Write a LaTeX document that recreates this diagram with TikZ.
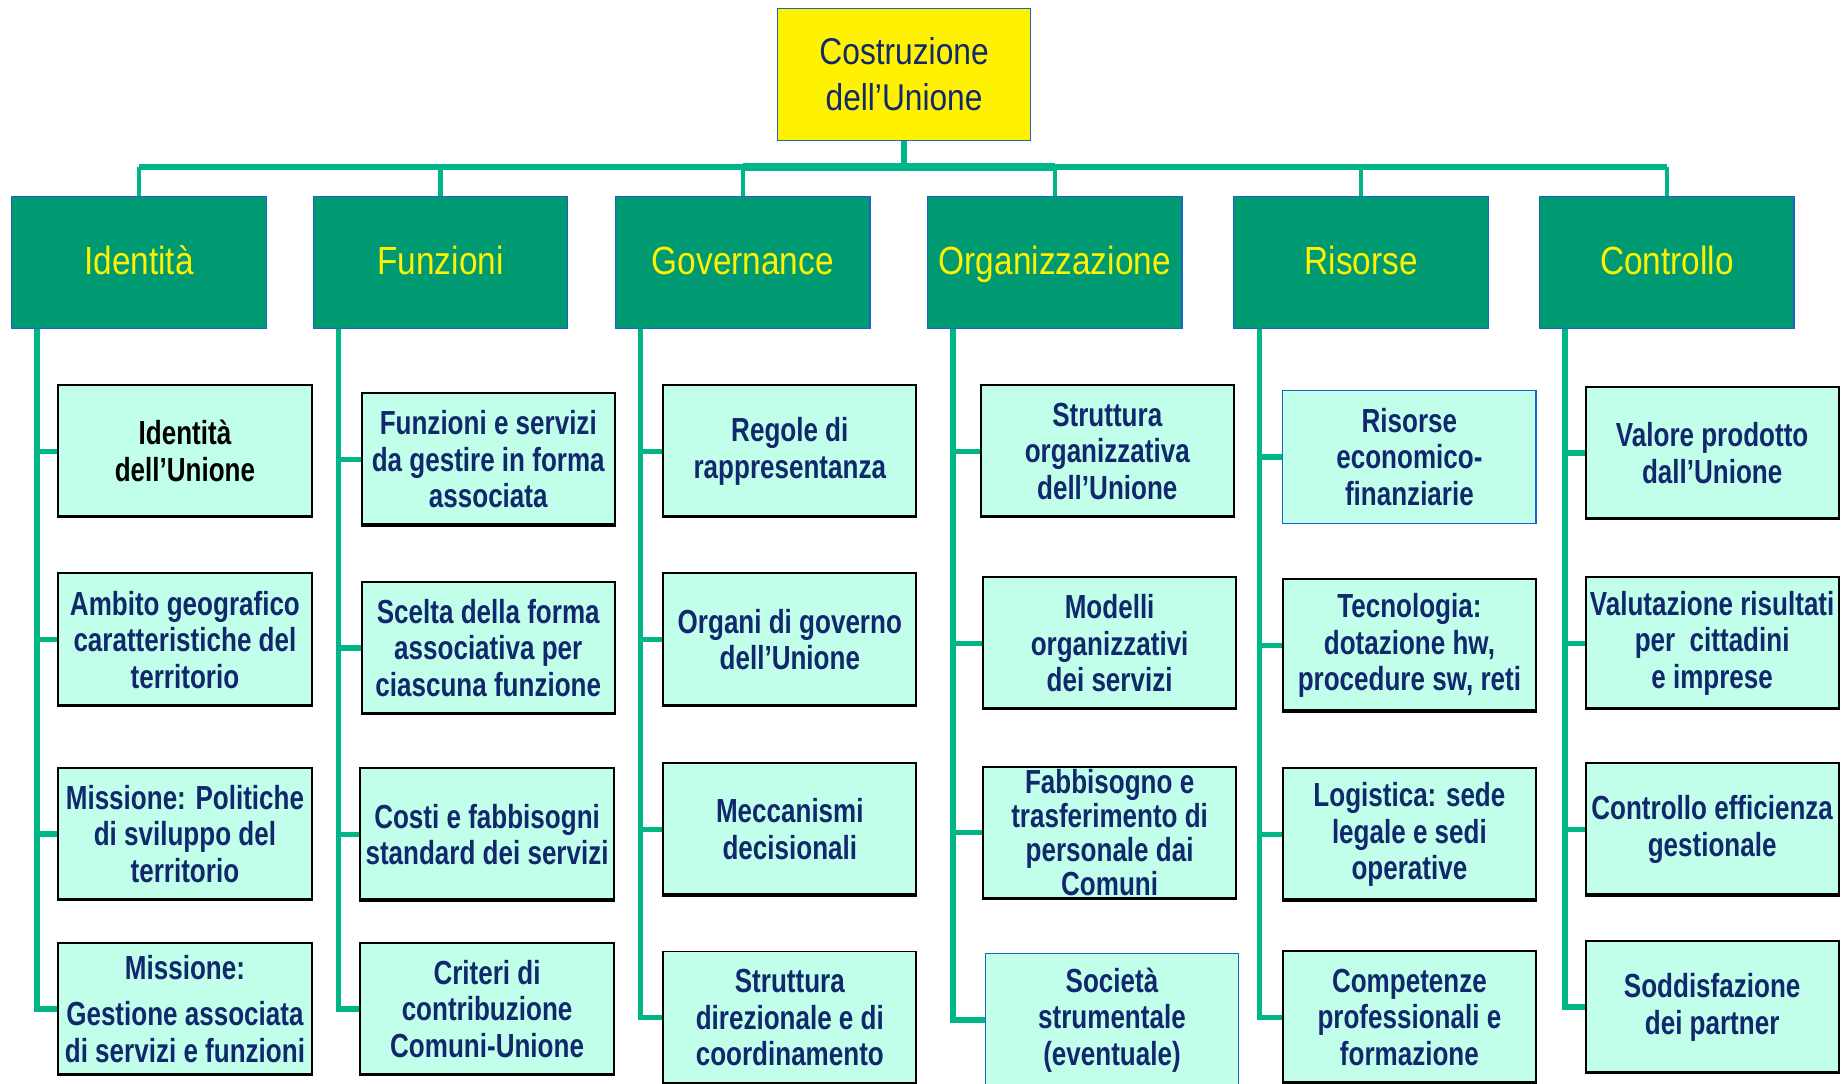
\documentclass[tikz,border=0pt]{standalone}
\usepackage{fontspec}
\setmainfont{Liberation Sans}
\newfontfamily\headfont{Liberation Sans}[FakeStretch=0.85]
\newfontfamily\boxfont{Liberation Sans}[FakeStretch=0.78]
\definecolor{navytext}{RGB}{18,40,108}
\definecolor{rootblue}{RGB}{30,100,200}
\definecolor{areagreen}{RGB}{0,154,114}
\definecolor{linkgreen}{RGB}{0,182,134}
\definecolor{leaffill}{RGB}{194,255,235}

\begin{document}
\begin{tikzpicture}[x=0.6pt, y=-0.6pt,
    rootbox/.style={draw=rootblue, line width=0.6pt, fill=yellow, text=navytext, minimum width=129pt, minimum height=67.2pt, align=center, font=\headfont\fontsize{19}{23}\selectfont},
    areabox/.style={draw=rootblue, line width=0.6pt, fill=areagreen, text=yellow, minimum width=129.6pt, minimum height=67.2pt, text height=15.6pt, text depth=3.6pt, font=\headfont\fontsize{20}{24}\selectfont},
    leafbox/.style={draw=black, line width=1pt, fill=leaffill, text=navytext, minimum width=129pt, minimum height=67.5pt, inner sep=1pt, align=center, font=\boxfont\bfseries\fontsize{17}{18.6}\selectfont,
        path picture={\draw[line width=2.4pt] (path picture bounding box.south west) -- (path picture bounding box.south east);}},
    leafblue/.style={leafbox, draw=rootblue, line width=0.6pt, path picture={}},
    link/.style={draw=linkgreen, line width=2.7pt},
    drop/.style={draw=linkgreen, line width=2.1pt}]
    \useasboundingbox (0,0) rectangle (1568,920);

    \node (top) at (767.5,63) [rootbox] {Costruzione\\dell’Unione};

    \node (h1) at (118,223) [areabox] {Identità};
    \node (h2) at (374,223) [areabox] {Funzioni};
    \node (h3) at (630.5,223) [areabox] {Governance};
    \node (h4) at (895.5,223) [areabox] {Organizzazione};
    \node (h5) at (1155.5,223) [areabox] {Risorse};
    \node (h6) at (1415,223) [areabox] {Controllo};

    \coordinate (bus) at (767.5,142);
    \draw[link] (top.south) -- (bus);
    \draw[link, line width=3pt] (h1.north |- bus) -- (h6.north |- bus);
    \draw[link, line width=4.2pt, yshift=0.9pt] (h3.north |- bus) -- (h4.north |- bus);
    \foreach \h in {1,...,6}
        \draw[drop] (h\h.north) -- (h\h.north |- bus);

    \node (c11) at (157,383) [leafbox, text=black] {Identità\\dell’Unione};
    \node (c12) at (157,543) [leafbox] {Ambito geografico\\caratteristiche del\\territorio};
    \node (c13) at (157,708) [leafbox] {Missione: Politiche\\di sviluppo del\\territorio};
    \node (c14) at (157,856.5) [leafbox] {Missione:\\[5pt]Gestione associata\\di servizi e funzioni};

    \node (c21) at (414.5,390) [leafbox] {Funzioni e servizi\\da gestire in forma\\associata};
    \node (c22) at (414.5,550) [leafbox] {Scelta della forma\\associativa per\\ciascuna funzione};
    \node (c23) at (413.5,708.5) [leafbox] {Costi e fabbisogni\\standard dei servizi};
    \node (c24) at (413.5,856.5) [leafbox] {Criteri di\\contribuzione\\Comuni-Unione};

    \node (c31) at (670.5,383) [leafbox] {Regole di\\rappresentanza};
    \node (c32) at (670.5,543) [leafbox] {Organi di governo\\dell’Unione};
    \node (c33) at (670.5,704) [leafbox] {Meccanismi\\decisionali};
    \node (c34) at (670.5,864) [leafbox] {Struttura\\direzionale e di\\coordinamento};

    \node (c41) at (940,383) [leafbox] {Struttura\\organizzativa\\dell’Unione};
    \node (c42) at (942,546) [leafbox] {Modelli\\organizzativi\\dei servizi};
    \node (c43) at (942,707) [leafbox, font=\boxfont\bfseries\fontsize{17}{17.4}\selectfont] {Fabbisogno e\\trasferimento di\\personale dai\\Comuni};
    \node (c44) at (944,866) [leafblue] {Società\\strumentale\\(eventuale)};

    \node (c51) at (1196.5,388) [leafblue] {Risorse\\economico-\\finanziarie};
    \node (c52) at (1196.5,548) [leafbox] {Tecnologia:\\dotazione hw,\\procedure sw, reti};
    \node (c53) at (1196.5,708.5) [leafbox] {Logistica: sede\\legale e sedi\\operative};
    \node (c54) at (1196.5,863.5) [leafbox] {Competenze\\professionali e\\formazione};

    \node (c61) at (1453.5,384.5) [leafbox] {Valore prodotto\\dall’Unione};
    \node (c62) at (1453.5,546) [leafbox] {Valutazione risultati\\per~ cittadini\\e imprese};
    \node (c63) at (1453.5,704) [leafbox] {Controllo efficienza\\gestionale};
    \node (c64) at (1453.5,855) [leafbox] {Soddisfazione\\dei partner};

    \foreach \c in {1,...,6} {
        \coordinate (s\c) at ([xshift=13.2pt]h\c.south west);
        \draw[link] (s\c) |- (c\c4.west);
        \foreach \r in {1,2,3}
            \draw[link] (c\c\r.west) -- (c\c\r.west -| s\c);
    }
\end{tikzpicture}
\end{document}
